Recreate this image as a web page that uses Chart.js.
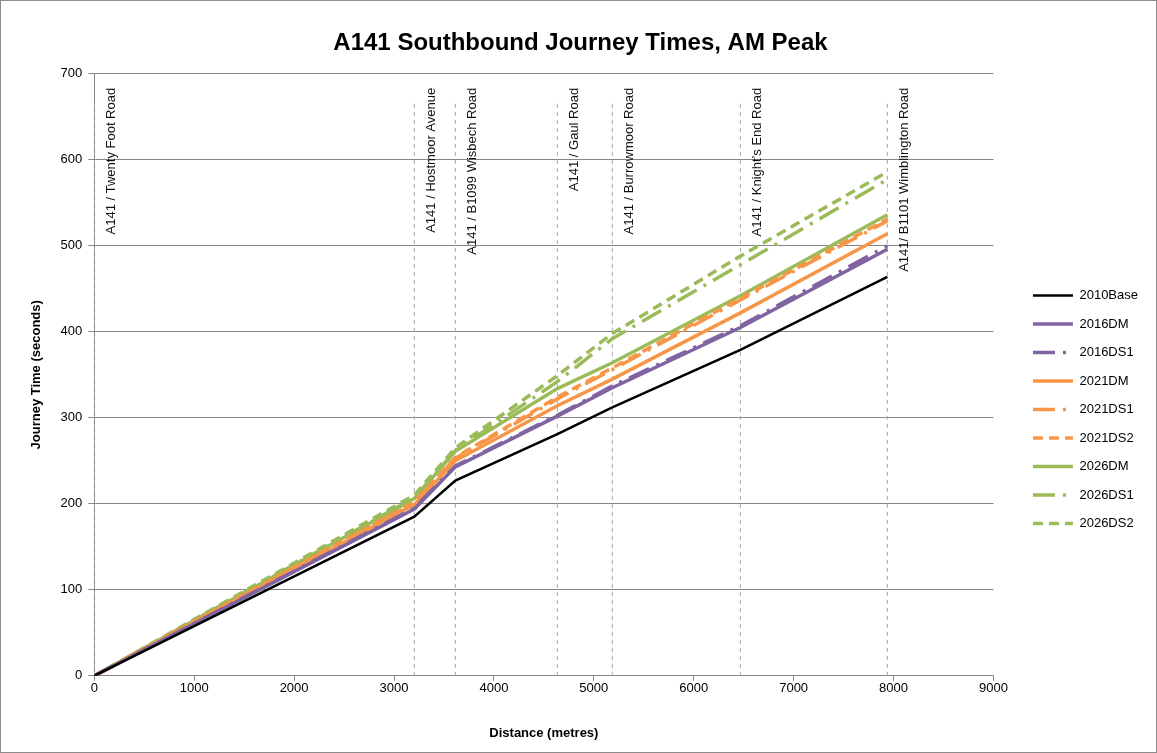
<!DOCTYPE html>
<html>
<head>
<meta charset="utf-8">
<title>A141 Southbound Journey Times, AM Peak</title>
<script src="https://cdn.jsdelivr.net/npm/chart.js@4.4.1/dist/chart.umd.min.js"></script>
<style>
  html, body { margin: 0; padding: 0; background: #fff; }
  #wrap { width: 1157px; height: 753px; }
</style>
</head>
<body>
<div id="wrap"><canvas id="journey-chart" width="1157" height="753"></canvas></div>
<script>
// Junction distances along the route (metres) and their names
const distances = [0, 3203, 3614, 4635, 5185, 6467, 7938];
const junctionNames = [
  'A141 / Twenty Foot Road',
  'A141 / Hostmoor Avenue',
  'A141 / B1099 Wisbech Road',
  'A141 / Gaul Road',
  'A141 / Burrowmoor Road',
  'A141 / Knight\u2019s End Road',
  'A141/ B1101 Wimblington Road'
];
const markerTop = 666;

// Cumulative journey times (seconds) at each junction
const base2010 = [0, 185, 227, 281, 312, 379, 464];
const dm2016   = [0, 194, 243, 302, 335, 405, 496];
const ds1_2016 = [0, 195, 244, 303, 337, 407, 500];
const dm2021   = [0, 199, 250, 314, 345, 422, 514];
const ds1_2021 = [0, 201, 253, 322, 356, 437, 529];
const ds2_2021 = [0, 202, 254, 324, 358, 439, 531];
const dm2026   = [0, 206, 261, 334, 364, 442, 536];
const ds1_2026 = [0, 207, 262, 342, 392, 478, 577];
const ds2_2026 = [0, 210, 265, 349, 398, 488, 586];

const xTickMin = 0, xTickMax = 9000, xTickStep = 1000;
const yTickMin = 0, yTickMax = 700, yTickStep = 100;

const FONT = "'Liberation Sans', Arial, sans-serif";
const PURPLE = '#8064A2';
const ORANGE = '#F79646';
const GREEN = '#9BBB59';
const GRID = '#878787';

const DASH_DOT = [22, 8, 3, 8];
const DASH = [10, 6];

function toPoints(values) {
  return distances.map((d, i) => ({ x: d, y: values[i] }));
}

function series(label, values, color, width, dash) {
  return {
    label: label,
    data: toPoints(values),
    borderColor: color,
    backgroundColor: color,
    borderWidth: width,
    borderDash: dash || [],
    pointRadius: 0,
    pointHoverRadius: 0,
    tension: 0,
    fill: false
  };
}

// Vertical dashed junction markers, one segment per junction
const junctionData = distances.flatMap(d => [
  { x: d, y: 0 }, { x: d, y: markerTop }, { x: d, y: null }
]);

const frame = {
  id: 'frame',
  beforeDraw(chart) {
    const ctx = chart.ctx;
    ctx.save();
    ctx.fillStyle = '#fff';
    ctx.fillRect(0, 0, chart.width, chart.height);
    ctx.strokeStyle = '#8c8c8c';
    ctx.lineWidth = 1;
    ctx.strokeRect(0.5, 0.5, chart.width - 1, chart.height - 1);
    ctx.restore();
  }
};

const junctionLabels = {
  id: 'junctionLabels',
  afterDatasetsDraw(chart) {
    const ctx = chart.ctx;
    const xs = chart.scales.x;
    const top = chart.chartArea.top + 14;
    ctx.save();
    ctx.font = '13px ' + FONT;
    ctx.fillStyle = '#111';
    ctx.textAlign = 'right';
    ctx.textBaseline = 'middle';
    distances.forEach((d, i) => {
      ctx.save();
      ctx.translate(xs.getPixelForValue(d) + 17, top);
      ctx.rotate(-Math.PI / 2);
      ctx.fillText(junctionNames[i], 0, 0);
      ctx.restore();
    });
    ctx.restore();
  }
};

// nudge legend and title to where the original has them
const boxOffsets = {
  id: 'boxOffsets',
  afterLayout(chart) {
    const lg = chart.legend;
    if (lg) {
      lg.left += 24; lg.right += 24;
      lg.top += 39; lg.bottom += 39;
    }
    const tb = chart.titleBlock;
    if (tb) {
      tb.left += 12; tb.right += 12;
    }
  }
};

// legend samples keep the dataset's dash pattern
function legendLabels(chart) {
  const items = Chart.defaults.plugins.legend.labels.generateLabels(chart);
  return items
    .filter(item => item.text !== '')
    .map(item => {
      const ds = chart.data.datasets[item.datasetIndex];
      item.lineDash = ds.borderDash;
      item.lineWidth = ds.borderWidth;
      item.strokeStyle = ds.borderColor;
      return item;
    });
}

const canvas = document.getElementById('journey-chart');
const chart = new Chart(canvas.getContext('2d'), {
  type: 'line',
  data: {
    datasets: [
      series('2010Base', base2010, '#000000', 2.5),
      series('2016DM', dm2016, PURPLE, 3.5),
      series('2016DS1', ds1_2016, PURPLE, 3.5, DASH_DOT),
      series('2021DM', dm2021, ORANGE, 3.5),
      series('2021DS1', ds1_2021, ORANGE, 3.5, DASH_DOT),
      series('2021DS2', ds2_2021, ORANGE, 3.5, DASH),
      series('2026DM', dm2026, GREEN, 3.5),
      series('2026DS1', ds1_2026, GREEN, 3.5, DASH_DOT),
      series('2026DS2', ds2_2026, GREEN, 3.5, DASH),
      {
        label: '',
        data: junctionData,
        borderColor: '#a6a6a6',
        borderWidth: 1,
        borderDash: [4, 4],
        pointRadius: 0,
        spanGaps: false,
        fill: false
      }
    ]
  },
  options: {
    responsive: false,
    animation: false,
    devicePixelRatio: 1,
    layout: { padding: { left: 13, right: 33, top: 0, bottom: 12 } },
    plugins: {
      title: {
        display: true,
        text: 'A141 Southbound Journey Times, AM Peak',
        color: '#000',
        font: { family: FONT, size: 24, weight: 'bold' },
        padding: { top: 29, bottom: 16 }
      },
      legend: {
        position: 'right',
        align: 'center',
        labels: {
          usePointStyle: true,
          pointStyle: 'line',
          pointStyleWidth: 40,
          color: '#000',
          padding: 15.5,
          font: { family: FONT, size: 13 },
          generateLabels: legendLabels
        }
      },
      tooltip: { enabled: false }
    },
    scales: {
      x: {
        type: 'linear',
        min: xTickMin,
        max: xTickMax,
        ticks: { stepSize: xTickStep, color: '#000', padding: 0, font: { family: FONT, size: 13 },
                 callback: v => String(v) },
        grid: { drawOnChartArea: false, color: GRID, tickLength: 5 },
        border: { color: GRID },
        title: {
          display: true,
          text: 'Distance (metres)',
          color: '#000',
          font: { family: FONT, size: 13, weight: 'bold' },
          padding: { top: 29, bottom: 0 }
        }
      },
      y: {
        min: yTickMin,
        max: yTickMax,
        ticks: { stepSize: yTickStep, color: '#000', padding: 6, font: { family: FONT, size: 13 } },
        grid: { color: GRID, tickLength: 6 },
        border: { color: GRID },
        title: {
          display: true,
          text: 'Journey Time (seconds)',
          color: '#000',
          font: { family: FONT, size: 13, weight: 'bold' },
          padding: { top: 16, bottom: 10 }
        }
      }
    }
  },
  plugins: [frame, junctionLabels, boxOffsets]
});
</script>
</body>
</html>
